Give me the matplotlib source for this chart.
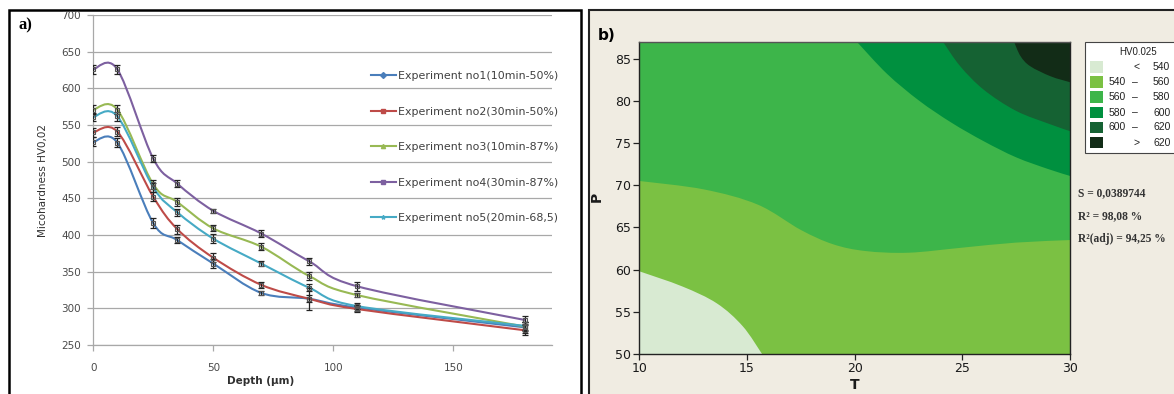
import numpy as np
import matplotlib
matplotlib.use("Agg")
import matplotlib.pyplot as plt
from matplotlib.path import Path
from matplotlib.patches import PathPatch, Rectangle
from matplotlib.lines import Line2D

# ---------------- panel a) microhardness profiles ----------------
depth = [0, 10, 25, 35, 50, 70, 90, 110, 180]

hv_exp1 = [527, 526, 416, 393, 361, 321, 313, 301, 274]
hv_exp2 = [540, 541, 452, 408, 369, 332, 313, 299, 270]
hv_exp3 = [571, 571, 469, 445, 409, 384, 344, 318, 275]
hv_exp4 = [626, 626, 504, 470, 433, 402, 364, 330, 284]
hv_exp5 = [561, 562, 465, 431, 395, 361, 328, 303, 276]

err_exp1 = [6, 6, 7, 4, 6, 3, 15, 4, 7]
err_exp2 = [6, 6, 6, 6, 6, 4, 5, 4, 7]
err_exp3 = [6, 6, 6, 5, 4, 5, 5, 3, 6]
err_exp4 = [6, 6, 5, 5, 3, 5, 5, 6, 5]
err_exp5 = [5, 6, 6, 5, 6, 3, 5, 4, 6]

series_labels = ["Experiment no1(10min-50%)", "Experiment no2(30min-50%)",
                 "Experiment no3(10min-87%)", "Experiment no4(30min-87%)",
                 "Experiment no5(20min-68,5)"]

# ---------------- panel b) HV0.025 contour map ----------------
contour_levels = [540, 560, 580, 600, 620]
legend_rows = [("<", "", "540"), ("540", "\u2013", "560"), ("560", "\u2013", "580"),
               ("580", "\u2013", "600"), ("600", "\u2013", "620"), (">", "", "620")]

# level boundaries (T, P) of the contour map
b540_t = [10.0, 12.0, 13.6, 14.8, 15.7]
b540_p = [59.8, 58.0, 56.0, 53.3, 50.0]
b560_t = [10.0, 13.0, 15.5, 17.5, 19.0, 20.5, 22.5, 25.0, 27.5, 30.0]
b560_p = [70.5, 69.5, 67.7, 64.7, 63.0, 62.2, 62.0, 62.6, 63.2, 63.5]
b580_t = [20.1, 21.5, 23.0, 24.5, 26.0, 27.5, 29.0, 30.0]
b580_p = [87.0, 83.2, 80.0, 77.4, 75.2, 73.3, 71.9, 71.1]
b600_t = [24.1, 24.9, 26.0, 27.5, 29.1, 30.0]
b600_p = [87.0, 84.1, 81.3, 78.8, 77.2, 76.4]
b620_t = [27.4, 27.7, 28.15, 29.1, 30.0]
b620_p = [87.0, 85.3, 84.1, 82.9, 82.2]

fit_stats = ["S = 0,0389744", "R\u00b2 = 98,08 %", "R\u00b2(adj) = 94,25 %"]

W, H = 1174, 394
fig = plt.figure(figsize=(W / 100, H / 100), dpi=100)
fig.patch.set_facecolor("white")


def fx(px):
    return px / W


def fy(py):
    return 1 - py / H


# panel frames
fig.add_artist(Rectangle((fx(9), -0.1), fx(581 - 9), fy(10) + 0.1, transform=fig.transFigure,
                         fill=False, ec="black", lw=1.8, zorder=0))
fig.add_artist(Rectangle((fx(589), -0.1), 0.5, fy(10) + 0.1, transform=fig.transFigure,
                         fc="#f0ece2", ec="#222222", lw=1.5, zorder=0))


def bezier_segments(x, y):
    """Cardinal-spline (Catmull-Rom) pieces through the points as cubic Bezier vertices."""
    pts = np.column_stack([np.asarray(x, float), np.asarray(y, float)])
    n = len(pts)
    verts = []
    for i in range(n - 1):
        p0 = pts[max(i - 1, 0)]
        p1 = pts[i]
        p2 = pts[i + 1]
        p3 = pts[min(i + 2, n - 1)]
        verts += [p1 + (p2 - p0) / 6.0, p2 - (p3 - p1) / 6.0, p2]
    return pts, verts


def smooth_path(x, y):
    pts, verts = bezier_segments(x, y)
    return Path([pts[0]] + verts, [Path.MOVETO] + [Path.CURVE4] * len(verts))


def region_path(x, y, corners_after):
    """Closed region: smooth boundary through (x, y), then straight edges via corners."""
    pts, verts = bezier_segments(x, y)
    all_verts = [pts[0]] + verts + list(corners_after) + [pts[0]]
    codes = ([Path.MOVETO] + [Path.CURVE4] * len(verts) +
             [Path.LINETO] * len(corners_after) + [Path.CLOSEPOLY])
    return Path(all_verts, codes)


axa = fig.add_axes([fx(93.3), fy(345), fx(551.7 - 93.3), fy(15) - fy(345)])
axa.set_xlim(0, 191)
axa.set_ylim(250, 700)
axa.set_yticks(np.arange(250, 701, 50))
axa.set_xticks([0, 50, 100, 150])
axa.yaxis.grid(True, color="#a8a8a8", lw=0.9)
axa.set_axisbelow(True)
for s in ["top", "right"]:
    axa.spines[s].set_visible(False)
for s in ["left", "bottom"]:
    axa.spines[s].set_color("#a8a8a8")
    axa.spines[s].set_linewidth(0.9)
axa.tick_params(axis="both", colors="#a8a8a8", length=4, width=0.9, labelsize=7.5,
                labelcolor="#4a4a4a")
axa.tick_params(axis="y", pad=5)
axa.tick_params(axis="x", pad=9)

series = [hv_exp1, hv_exp2, hv_exp3, hv_exp4, hv_exp5]
errors = [err_exp1, err_exp2, err_exp3, err_exp4, err_exp5]
colors = ["#4a7ebb", "#be4b48", "#98b954", "#7d60a0", "#46aac5"]
markers = ["D", "s", "^", "s", "*"]
handles = []
for vals, err, c, m, lab in zip(series, errors, colors, markers, series_labels):
    axa.add_patch(PathPatch(smooth_path(depth, vals), fill=False, ec=c, lw=1.5, zorder=3))
    axa.errorbar(depth, vals, yerr=err, fmt="none", ecolor="#222222", elinewidth=0.9,
                 capsize=2.5, capthick=0.9, zorder=4)
    axa.plot(depth, vals, ls="none", marker="s", ms=3.5, mfc="none", mec="#555555",
             mew=0.8, zorder=5)
    handles.append(Line2D([0], [0], color=c, lw=1.5, marker=m, ms=3))

fig.legend(handles, series_labels, loc="upper left", bbox_to_anchor=(fx(371), fy(71)),
           frameon=False, fontsize=7.9, handlelength=2.25, handletextpad=0.25,
           labelspacing=2.33, borderpad=0, borderaxespad=0, labelcolor="#404040")

fig.text(fx(43), fy(180), "Micohardness HV0,02", rotation=90, ha="center", va="center",
         fontsize=7.5, color="#303030")
fig.text(fx(261), fy(381), "Depth (\u00b5m)", ha="center", va="center", fontsize=7.5,
         fontweight="bold", color="#303030")
fig.text(fx(25), fy(25), "a)", ha="center", va="center", fontsize=12, fontweight="bold",
         family="Liberation Serif")

# ---------------- contour panel ----------------
axb = fig.add_axes([fx(639.3), fy(354), fx(1070 - 639.3), fy(41.7) - fy(354)])
fill_colors = ["#d8ead2", "#7bc143", "#3db54a", "#00903f", "#156233", "#122c17"]
axb.fill_between([10, 30], 50, 87, color=fill_colors[2], lw=0)
regions = [
    (b560_t, b560_p, [(30, 50), (10, 50)], fill_colors[1]),
    (b540_t, b540_p, [(10, 50)], fill_colors[0]),
    (b580_t, b580_p, [(30, 87)], fill_colors[3]),
    (b600_t, b600_p, [(30, 87)], fill_colors[4]),
    (b620_t, b620_p, [(30, 87)], fill_colors[5]),
]
for tt, pp, corners, fc in regions:
    axb.add_patch(PathPatch(region_path(tt, pp, corners), fc=fc, ec="none", lw=0))
axb.set_xlim(10, 30)
axb.set_ylim(50, 87)
axb.set_xticks([10, 15, 20, 25, 30])
axb.set_yticks([50, 55, 60, 65, 70, 75, 80, 85])
for s in axb.spines.values():
    s.set_color("#222222")
    s.set_linewidth(1.0)
axb.spines["top"].set_color("#555555")
axb.tick_params(axis="both", direction="out", length=4, width=0.9, labelsize=9,
                color="#222222", labelcolor="#1a1a1a", pad=2)
fig.text(fx(597), fy(197), "P", rotation=90, ha="center", va="center", fontsize=10,
         fontweight="bold", color="#1a1a1a")
fig.text(fx(855), fy(385), "T", ha="center", va="center", fontsize=10,
         fontweight="bold", color="#1a1a1a")
fig.text(fx(607), fy(35), "b)", ha="center", va="center", fontsize=11, fontweight="bold")

# level legend box
fig.add_artist(Rectangle((fx(1085), fy(153.3)), 0.2, fy(41.7) - fy(153.3),
                         transform=fig.transFigure, fc="white", ec="#444444", lw=0.8))
fig.text(fx(1138), fy(52), "HV0.025", ha="center", va="center", fontsize=7,
         family="Liberation Sans", color="#222222")
row_y = [67, 82, 97, 112.5, 127.5, 142.5]
for (a, dash, b), yy, fc in zip(legend_rows, row_y, fill_colors):
    fig.add_artist(Rectangle((fx(1090), fy(yy + 5.5)), fx(12.7), fy(yy - 5.5) - fy(yy + 5.5),
                             transform=fig.transFigure, fc=fc, ec="none"))
    if dash:
        fig.text(fx(1117), fy(yy), a, ha="center", va="center", fontsize=7.5,
                 family="Liberation Sans", color="#222222")
        fig.text(fx(1135), fy(yy), dash, ha="center", va="center", fontsize=7.5,
                 family="Liberation Sans", color="#222222")
    else:
        fig.text(fx(1136.5), fy(yy), a, ha="center", va="center", fontsize=7.5,
                 family="Liberation Sans", color="#222222")
    fig.text(fx(1153), fy(yy), b, ha="left", va="center", fontsize=7.5,
             family="Liberation Sans", color="#222222")

for txt, yy in zip(fit_stats, [193, 216, 239]):
    fig.text(fx(1078), fy(yy), txt, ha="left", va="center", fontsize=8.3,
             family="Liberation Serif", fontweight="bold", color="#333333")

fig.savefig("out.png", dpi=100)
